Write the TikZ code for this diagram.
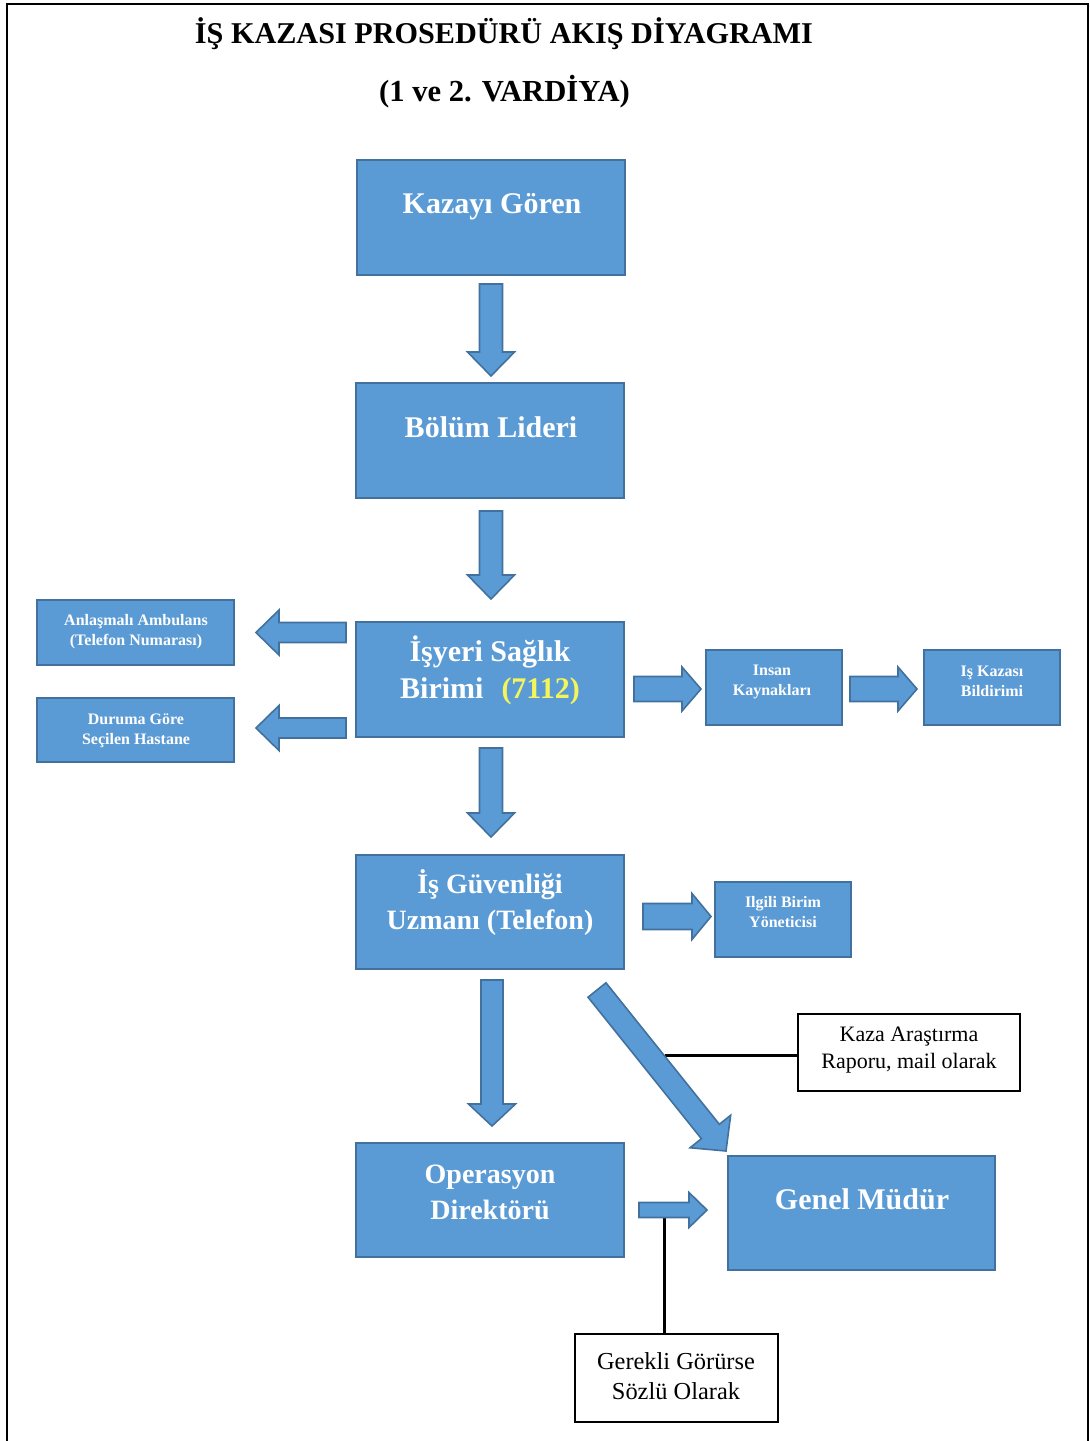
\documentclass[tikz,border=0pt]{standalone}
\usepackage{fontspec}
\setmainfont{Liberation Serif}
\usetikzlibrary{calc}

\definecolor{boxblue}{HTML}{5B9BD5}
\definecolor{boxedge}{HTML}{41719C}
\definecolor{numyellow}{HTML}{F4F45C}

\tikzset{
  flowbox/.style={rectangle, draw=boxedge, line width=1pt, fill=boxblue, inner sep=0pt},
  bigtext/.style={text=white, font=\fontsize{15}{18.5}\selectfont\bfseries, align=center, inner sep=0pt},
  midtext/.style={bigtext, font=\fontsize{14}{18}\selectfont\bfseries},
  smalltext/.style={text=white, font=\fontsize{8}{10}\selectfont\bfseries, align=center, inner sep=0pt},
  notebox/.style={rectangle, draw=black, line width=1pt, fill=white, inner sep=0pt},
  notetext/.style={font=\fontsize{11}{13.5}\selectfont, align=center, inner sep=0pt},
  fatarrow/.style={draw=boxedge, line width=0.8pt, fill=boxblue, line join=miter},
  leader/.style={draw=black, line width=1.5pt},
  frameline/.style={draw=black, line width=1.2pt},
}

% block arrow: #1 tail, #2 tip, #3 shaft half-width, #4 head half-width, #5 head length
\newcommand{\flowarrow}[5]{%
  \coordinate (fa-t) at #1;
  \coordinate (fa-h) at #2;
  \coordinate (fa-b) at ($(fa-h)!#5!(fa-t)$);
  \draw[fatarrow]
    ($(fa-t)!#3!90:(fa-h)$) -- ($(fa-b)!#3!90:(fa-h)$) -- ($(fa-b)!#4!90:(fa-h)$)
    -- (fa-h)
    -- ($(fa-b)!#4!-90:(fa-h)$) -- ($(fa-b)!#3!-90:(fa-h)$) -- ($(fa-t)!#3!-90:(fa-h)$) -- cycle;
}

\begin{document}
\begin{tikzpicture}[x=0.5pt, y=-0.5pt]
\useasboundingbox (0,0) rectangle (1090,1441);

% page frame (open at the bottom)
\coordinate (fr-bl) at (7,1441);
\coordinate (fr-tl) at (7,4);
\coordinate (fr-tr) at (1088,4);
\coordinate (fr-br) at (1088,1441);
\draw[frameline] (fr-bl) -- (fr-tl) -- (fr-tr) -- (fr-br);

% headings
\node[anchor=base, inner sep=0pt, font=\fontsize{15.1}{18}\selectfont\bfseries] (title) at (504,43)
  {İŞ KAZASI PROSEDÜRÜ AKIŞ DİYAGRAMI};
\node[anchor=base, inner sep=0pt, font=\fontsize{15.3}{18}\selectfont\bfseries] (subtitle) at (504.5,101)
  {(1 ve 2. VARDİYA)};

% main column
\node[flowbox, minimum width=134pt, minimum height=57.5pt] (kaza) at (491,217.5) {};
\node[bigtext, anchor=base] (kaza-t) at (492,213) {Kazayı Gören};

\node[flowbox, minimum width=134pt, minimum height=57.5pt] (bolum) at (490,440.5) {};
\node[bigtext, anchor=base] (bolum-t) at (491,437) {Bölüm Lideri};

\node[flowbox, minimum width=134pt, minimum height=57.5pt] (isyeri) at (490,679.5) {};
\node[bigtext] (isyeri-t) at (490,670) {İşyeri Sağlık\\Birimi\hspace{0.6em}\textcolor{numyellow}{(7112)}};

\node[flowbox, minimum width=134pt, minimum height=57pt] (isg) at (490,912) {};
\node[midtext] (isg-t) at (490,902) {İş Güvenliği\\Uzmanı (Telefon)};

\node[flowbox, minimum width=134pt, minimum height=57pt] (ops) at (490,1200) {};
\node[midtext] (ops-t) at (490,1192) {Operasyon\\Direktörü};

\node[flowbox, minimum width=133.5pt, minimum height=57pt] (genel) at (861.5,1213) {};
\node[bigtext, anchor=base] (genel-t) at (862,1209) {Genel Müdür};

% side boxes
\node[flowbox, minimum width=98.5pt, minimum height=32.5pt] (amb) at (135.5,632.5) {};
\node[smalltext] (amb-t) at (136,631.5) {Anlaşmalı Ambulans\\(Telefon Numarası)};

\node[flowbox, minimum width=98.5pt, minimum height=32pt] (hast) at (135.5,730) {};
\node[smalltext] (hast-t) at (136,730.5) {Duruma Göre\\Seçilen Hastane};

\node[flowbox, minimum width=68pt, minimum height=37.5pt] (ik) at (774,687.5) {};
\node[smalltext] (ik-t) at (772,681.5) {Insan\\Kaynakları};

\node[flowbox, minimum width=68pt, minimum height=37.5pt] (bild) at (992,687.5) {};
\node[smalltext] (bild-t) at (992,681.5) {Iş Kazası\\Bildirimi};

\node[flowbox, minimum width=68pt, minimum height=37.5pt] (ilgili) at (783,919.5) {};
\node[smalltext] (ilgili-t) at (783,912) {Ilgili Birim\\Yöneticisi};

% note boxes
\node[notebox, minimum width=111pt, minimum height=38.5pt] (rapor) at (909,1052) {};
\node[notetext] (rapor-t) at (909,1050.5) {Kaza Araştırma\\Raporu, mail olarak};

\node[notebox, minimum width=101.5pt, minimum height=44pt] (gerekli) at (676.5,1378) {};
\node[notetext, font=\fontsize{12.2}{15}\selectfont] (gerekli-t) at (676,1376) {Gerekli Görürse\\Sözlü Olarak};

% leader lines to the notes
\coordinate (rapor-end) at (665,1055);
\draw[leader] (rapor-end) -- (rapor-end -| rapor.west);
\coordinate (gerekli-end) at (664,1216);
\draw[leader] (gerekli-end) -- (gerekli-end |- gerekli.north);

% vertical flow
\flowarrow{($(kaza.south)+(0,8)$)}{($(kaza.south |- bolum.north)+(0,-6)$)}{5.75pt}{11.75pt}{12pt}
\flowarrow{($(bolum.south)+(1,12)$)}{($(bolum.south |- isyeri.north)+(1,-22)$)}{5.75pt}{11.75pt}{12pt}
\flowarrow{($(isyeri.south)+(1,10)$)}{($(isyeri.south |- isg.north)+(1,-17)$)}{5.75pt}{11.75pt}{12pt}
\flowarrow{($(isg.south)+(2,10)$)}{($(isg.south |- ops.north)+(2,-16)$)}{5.5pt}{11.75pt}{11pt}

% branches of the health unit
\flowarrow{($(isyeri.west |- amb.east)+(-9,0)$)}{($(amb.east)+(21,0)$)}{5pt}{11.25pt}{11.5pt}
\flowarrow{($(isyeri.west |- hast.east)+(-9,-2)$)}{($(hast.east)+(21,-2)$)}{5pt}{11.25pt}{11.5pt}
\flowarrow{($(isyeri.east |- ik.west)+(9,1.5)$)}{($(ik.west)+(-4,1.5)$)}{6.25pt}{11pt}{9.5pt}
\flowarrow{($(ik.east)+(7,1.5)$)}{($(bild.west)+(-6,1.5)$)}{6.25pt}{11pt}{9.5pt}

% branches of the safety expert
\flowarrow{($(isg.east |- ilgili.west)+(18,-3)$)}{($(ilgili.west)+(-3,-3)$)}{6.5pt}{11.5pt}{9.5pt}
\flowarrow{($(isg.south east)+(-28,20)$)}{($(genel.north west)+(-1,-4)$)}{5.75pt}{13pt}{12.5pt}

% operations director to general manager
\flowarrow{($(ops.east |- genel.west)+(14,-3)$)}{($(genel.west)+(-20,-3)$)}{3.75pt}{8.75pt}{9pt}

\end{tikzpicture}
\end{document}
